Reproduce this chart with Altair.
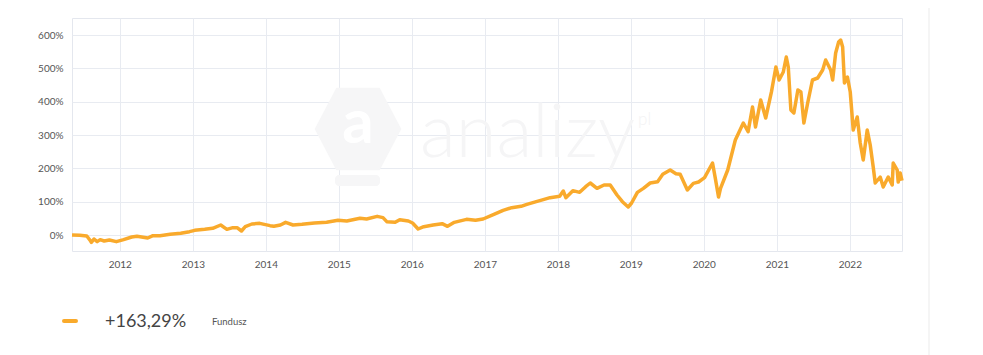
import altair as alt
import pandas as pd

# ---- data ----
dates = [
    "2011-05-07", "2011-06-15", "2011-07-20", "2011-08-08", "2011-08-12", "2011-08-25",
    "2011-09-10", "2011-09-25", "2011-10-15", "2011-11-10", "2011-12-15", "2012-01-20",
    "2012-03-01", "2012-03-27", "2012-05-20", "2012-06-15", "2012-07-20", "2012-09-09",
    "2012-11-01", "2012-12-15", "2013-01-10", "2013-03-01", "2013-04-10", "2013-05-20",
    "2013-06-20", "2013-07-20", "2013-08-10", "2013-09-01", "2013-09-20", "2013-10-23",
    "2013-12-01", "2014-01-22", "2014-02-10", "2014-03-15", "2014-04-10", "2014-05-17",
    "2014-07-01", "2014-09-01", "2014-11-01", "2014-12-28", "2015-02-10", "2015-04-17",
    "2015-05-20", "2015-07-12", "2015-08-10", "2015-08-29", "2015-10-10", "2015-11-02",
    "2015-12-15", "2016-01-05", "2016-02-02", "2016-03-01", "2016-04-17", "2016-06-01",
    "2016-06-28", "2016-08-01", "2016-10-01", "2016-11-15", "2016-12-23", "2017-02-15",
    "2017-04-02", "2017-05-15", "2017-07-01", "2017-07-30", "2017-09-15", "2017-10-20",
    "2017-11-23", "2018-01-10", "2018-01-28", "2018-02-10", "2018-03-17", "2018-04-20",
    "2018-05-20", "2018-06-12", "2018-07-16", "2018-08-20", "2018-09-20", "2018-10-24",
    "2018-11-20", "2018-12-19", "2019-01-05", "2019-02-03", "2019-03-05", "2019-04-08",
    "2019-05-15", "2019-06-10", "2019-07-17", "2019-08-15", "2019-09-05", "2019-10-11",
    "2019-11-10", "2019-12-06", "2020-01-05", "2020-02-14", "2020-02-28", "2020-03-15",
    "2020-03-25", "2020-04-30", "2020-06-07", "2020-07-17", "2020-08-10", "2020-09-01",
    "2020-09-16", "2020-10-12", "2020-11-06", "2020-12-05", "2020-12-27", "2021-01-12",
    "2021-02-02", "2021-02-17", "2021-02-27", "2021-03-12", "2021-03-27", "2021-04-16",
    "2021-05-01", "2021-05-16", "2021-06-04", "2021-06-28", "2021-07-24", "2021-08-18",
    "2021-09-02", "2021-09-27", "2021-10-07", "2021-10-22", "2021-11-06", "2021-11-16",
    "2021-11-26", "2021-12-05", "2021-12-20", "2022-01-03", "2022-01-18", "2022-02-07",
    "2022-02-22", "2022-03-09", "2022-03-29", "2022-04-13", "2022-04-28", "2022-05-08",
    "2022-06-02", "2022-06-17", "2022-07-12", "2022-08-01", "2022-08-06", "2022-08-26",
    "2022-08-31", "2022-09-10", "2022-09-19",
]
values = [
    0, -1, -3, -18, -22, -12,
    -20, -14, -18, -15, -20, -14,
    -6, -4, -9, -2, -2, 2,
    5, 10, 14, 17, 20, 30,
    17, 22, 22, 12, 25, 33,
    35, 28, 26, 30, 38, 30,
    32, 36, 38, 44, 42, 50,
    48, 56, 52, 40, 38, 46,
    42, 36, 18, 25, 30, 34,
    26, 38, 47, 44, 48, 62,
    74, 82, 86, 92, 100, 106,
    112, 116, 132, 112, 133, 128,
    145, 156, 140, 150, 150, 120,
    100, 84, 96, 128, 140, 156,
    160, 182, 195, 184, 182, 135,
    155, 159, 172, 216, 170, 114,
    140, 195, 285, 336, 310, 384,
    324, 405, 351, 430, 504, 465,
    489, 534, 504, 375, 366, 435,
    429, 336, 396, 465, 471, 495,
    525, 495, 465, 546, 579, 585,
    564, 456, 474, 429, 315, 354,
    276, 225, 315, 270, 204, 156,
    174, 144, 174, 150, 216, 195,
    159, 186, 163,
]
year_ticks = list(range(2012, 2023))
pct_ticks = [0, 100, 200, 300, 400, 500, 600]
legend_value = ["+163,29%"]
legend_name = ["Fundusz"]
watermark_word = ["analizy"]
watermark_suffix = ["pl"]
watermark_letter = ["a"]

ORANGE = "#f9aa2c"
FONT = "Lato"

df = pd.DataFrame({"date": dates, "value": values})

W, H = 830, 233

x_enc = alt.X(
    "date:T",
    scale=alt.Scale(type="utc", domain=[alt.DateTime(year=2011, month=5, date=7, utc=True),
                                        alt.DateTime(year=2022, month=9, date=19, utc=True)],
                    nice=False),
    axis=alt.Axis(
        values=[alt.DateTime(year=y, month=1, date=1, utc=True) for y in year_ticks],
        format="%Y", title=None, labelPadding=8,
    ),
)
y_enc = alt.Y(
    "value:Q",
    scale=alt.Scale(domain=[-48, 651], nice=False, zero=False),
    axis=alt.Axis(values=pct_ticks, labelExpr="datum.value + '%'", title=None, labelPadding=9),
)

line = alt.Chart(df).mark_line(color=ORANGE, strokeWidth=3.5, strokeJoin="round").encode(
    x=x_enc, y=y_enc
)

# watermark
hex_path = "M -1 0 L -0.5 -0.95 L 0.5 -0.95 L 1 0 L 0.5 0.95 L -0.5 0.95 Z"
wm_hex = alt.Chart(pd.DataFrame({"k": [0]})).mark_point(
    shape=hex_path, filled=True, color="#f6f6f7", opacity=1, size=7500, strokeWidth=0
).encode(x=alt.value(286), y=alt.value(111))
wm_a = alt.Chart(pd.DataFrame({"t": watermark_letter})).mark_text(
    font=FONT, fontSize=62, fontWeight="bold", color="#ffffff", align="center", baseline="middle"
).encode(x=alt.value(286), y=alt.value(106), text="t:N")
wm_base = alt.Chart(pd.DataFrame({"k": [0]})).mark_rect(
    color="#f6f6f7", cornerRadius=4
).encode(x=alt.value(263), x2=alt.value(308), y=alt.value(157), y2=alt.value(168))
wm_text = alt.Chart(pd.DataFrame({"t": watermark_word})).mark_text(
    font=FONT, fontSize=74, fontWeight=300, color="#f5f5f6", align="left", baseline="alphabetic"
).encode(x=alt.value(348), y=alt.value(139), text="t:N")
wm_pl = alt.Chart(pd.DataFrame({"t": watermark_suffix})).mark_text(
    font=FONT, fontSize=17, fontWeight=300, color="#f3f3f4", align="left", baseline="alphabetic"
).encode(x=alt.value(566), y=alt.value(107), text="t:N")

# panel separator on the right
sep = alt.Chart(pd.DataFrame({"k": [0]})).mark_rule(color="#eeeeee", strokeWidth=1.2).encode(
    x=alt.value(857), y=alt.value(-10), y2=alt.value(340)
)

# legend
leg_dash = alt.Chart(pd.DataFrame({"k": [0]})).mark_rule(
    color=ORANGE, strokeWidth=4, strokeCap="round"
).encode(x=alt.value(-8), x2=alt.value(4), y=alt.value(303))
leg_val = alt.Chart(pd.DataFrame({"t": legend_value})).mark_text(
    font=FONT, fontSize=18, color="#444444", align="left", baseline="middle"
).encode(x=alt.value(33), y=alt.value(304), text="t:N")
leg_name = alt.Chart(pd.DataFrame({"t": legend_name})).mark_text(
    font=FONT, fontSize=9.5, color="#555555", align="left", baseline="middle"
).encode(x=alt.value(140), y=alt.value(304), text="t:N")

chart = alt.layer(
    wm_hex, wm_a, wm_base, wm_text, wm_pl, line, sep, leg_dash, leg_val, leg_name
).properties(
    width=W, height=H,
    autosize=alt.AutoSizeParams(type="none"),
    padding={"left": 72, "top": 18, "right": 81, "bottom": 104},
    background="white",
).configure_view(
    stroke="#e4e7ee", strokeWidth=1
).configure_axis(
    domain=False, ticks=False, grid=True, gridColor="#e8ebf1", gridWidth=1,
    labelFont=FONT, labelFontSize=10, labelColor="#555555",
)

chart.save("out.html", embed_options={"renderer": "svg", "actions": False})
